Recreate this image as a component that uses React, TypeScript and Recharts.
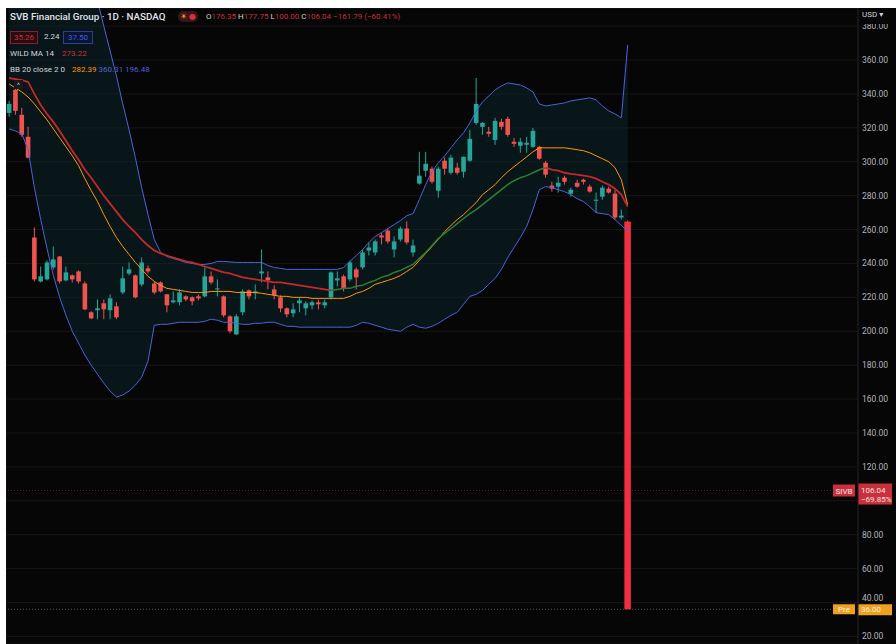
import React from 'react';
import { ComposedChart, Bar, Line, Area, XAxis, YAxis, CartesianGrid, ReferenceLine } from 'recharts';

// daily candles (USD)
const opens = [
  328.8, 342.4, 327.7, 314.7, 255.3, 229.4, 230.6, 237.7, 244.1, 230.0,
  233.0, 235.3, 228.2, 211.2, 212.4, 216.5, 212.4, 214.7, 222.9, 234.1,
  233.0, 227.6, 237.1, 228.2, 228.8, 221.8, 217.1, 217.1, 220.6, 220.0,
  220.6, 220.6, 232.4, 224.7, 220.6, 208.8, 198.2, 211.2, 224.1, 222.4,
  234.1, 231.8, 224.7, 220.0, 213.5, 210.6, 216.5, 213.5, 215.3, 217.1,
  215.3, 220.0, 230.0, 232.4, 230.6, 236.5, 237.7, 247.6, 246.5, 256.5,
  259.4, 248.2, 254.1, 260.6, 246.5, 287.1, 294.7, 295.9, 282.9, 300.6,
  293.5, 296.5, 294.1, 300.6, 322.9, 320.6, 317.7, 312.9, 323.5, 325.3,
  311.8, 309.4, 310.0, 308.8, 308.8, 299.4, 285.9, 285.3, 290.6, 281.2,
  287.6, 289.4, 285.3, 277.1, 279.4, 284.1, 281.2, 267.1, 264.7,
];
const highs = [
  335.9, 343.5, 331.8, 320.6, 261.2, 238.2, 241.8, 250.0, 244.4, 238.2,
  233.5, 235.9, 229.4, 211.8, 218.8, 218.8, 221.8, 217.1, 238.2, 240.6,
  233.5, 243.5, 238.8, 229.4, 229.4, 222.0, 223.5, 224.7, 221.2, 220.6,
  221.8, 237.7, 235.3, 230.6, 221.2, 209.4, 210.0, 224.7, 224.7, 227.6,
  248.2, 235.3, 227.1, 221.2, 214.1, 216.5, 220.0, 217.7, 218.2, 218.8,
  218.8, 235.3, 235.3, 233.5, 241.8, 237.7, 248.2, 252.4, 254.1, 258.2,
  260.6, 255.9, 261.8, 264.7, 254.1, 305.9, 305.9, 297.1, 297.1, 302.4,
  304.1, 299.4, 303.0, 318.8, 349.4, 323.5, 320.6, 325.9, 325.3, 326.5,
  314.1, 314.1, 314.7, 320.0, 309.4, 300.6, 288.2, 291.2, 291.8, 284.7,
  289.4, 290.0, 286.5, 281.8, 285.9, 285.3, 283.5, 271.8, 265.5,
];
const lows = [
  326.5, 327.7, 314.7, 302.0, 229.4, 228.8, 230.0, 236.5, 228.2, 229.4,
  228.8, 228.2, 212.4, 207.1, 207.1, 207.1, 207.1, 207.1, 221.8, 233.0,
  219.4, 226.5, 234.1, 221.8, 222.9, 211.2, 216.5, 215.3, 217.7, 215.3,
  218.2, 220.0, 227.6, 220.6, 208.2, 198.8, 197.7, 209.4, 218.8, 218.8,
  228.8, 224.7, 218.8, 211.2, 208.2, 208.2, 211.2, 209.4, 212.9, 212.9,
  213.5, 218.8, 226.5, 223.5, 229.4, 224.7, 236.5, 244.7, 244.7, 251.2,
  251.8, 243.5, 253.0, 251.2, 244.1, 286.5, 291.2, 287.1, 278.8, 292.4,
  292.4, 292.4, 290.6, 300.0, 321.8, 315.9, 314.7, 310.0, 318.8, 314.7,
  308.8, 305.3, 305.3, 308.2, 301.2, 290.6, 282.4, 281.8, 286.5, 279.4,
  284.7, 286.5, 281.8, 270.0, 277.6, 281.2, 265.9, 265.9, 36.0,
];
const closes = [
  334.1, 330.0, 315.9, 302.4, 230.6, 232.4, 240.6, 242.4, 229.4, 234.7,
  230.6, 229.4, 212.9, 207.6, 213.5, 212.9, 219.4, 208.2, 231.2, 236.5,
  220.0, 240.6, 235.3, 222.9, 223.5, 215.3, 218.2, 222.9, 218.8, 217.7,
  219.4, 232.4, 228.8, 225.3, 209.4, 200.0, 208.8, 223.5, 220.6, 223.5,
  235.3, 230.0, 221.2, 213.5, 210.0, 212.9, 218.2, 216.5, 217.1, 215.9,
  217.1, 234.7, 231.2, 225.3, 240.6, 231.8, 246.5, 249.4, 253.0, 255.3,
  253.0, 253.0, 260.6, 252.4, 250.6, 291.8, 298.8, 288.2, 295.9, 295.9,
  302.4, 293.5, 302.9, 313.5, 334.1, 322.9, 316.5, 324.1, 320.6, 315.9,
  310.6, 311.8, 311.2, 318.2, 301.8, 292.4, 284.1, 287.6, 288.2, 283.5,
  285.3, 288.2, 282.4, 277.6, 284.7, 281.8, 267.1, 268.2, 36.0,
];

// Bollinger Bands 20 / 2
const bbUpper = [
  400, 405, 410, 415, 425, 430, 432, 432, 430, 427,
  423, 418, 412, 404, 395, 380.0, 365.3, 350.6, 334.1, 318.8,
  302.4, 284.7, 268.8, 254.1, 246.5, 244.1, 242.9, 241.8, 240.6, 240.0,
  239.4, 239.4, 240.0, 241.2, 241.2, 240.9, 240.6, 240.6, 240.6, 240.6,
  240.6, 238.8, 237.6, 237.1, 236.5, 236.5, 236.5, 236.5, 236.5, 236.5,
  236.5, 236.5, 236.5, 237.6, 241.2, 244.7, 248.2, 252.4, 255.9, 258.2,
  260.6, 262.9, 265.3, 268.2, 269.4, 277.7, 286.5, 294.1, 299.4, 303.5,
  308.2, 312.9, 317.1, 322.9, 330.0, 335.3, 338.8, 342.4, 344.7, 346.5,
  345.9, 345.3, 343.5, 341.2, 334.1, 332.9, 333.5, 334.1, 334.7, 335.9,
  336.5, 337.1, 337.7, 336.5, 332.9, 330.0, 328.2, 325.9, 368.8,
];
const bbLower = [
  319.4, 318.2, 316.5, 307.1, 284.7, 265.9, 248.8, 232.9, 220.0, 209.4,
  200.0, 193.0, 185.9, 180.0, 174.7, 169.4, 164.7, 161.2, 162.4, 164.7,
  168.2, 172.9, 182.4, 203.5, 204.1, 204.1, 204.7, 205.3, 205.3, 205.3,
  205.3, 205.9, 207.1, 206.5, 205.3, 205.3, 204.7, 204.1, 204.1, 204.7,
  204.7, 205.3, 205.3, 204.1, 202.9, 202.9, 202.4, 202.4, 202.4, 202.4,
  202.4, 202.4, 202.4, 202.4, 202.4, 203.5, 205.3, 204.7, 203.5, 202.4,
  201.2, 200.6, 200.0, 202.4, 204.1, 202.4, 201.8, 202.9, 204.7, 207.1,
  209.4, 211.2, 215.9, 220.6, 221.8, 224.1, 227.7, 231.2, 236.5, 243.5,
  249.4, 255.3, 261.8, 271.8, 283.5, 285.3, 284.7, 283.5, 282.4, 280.6,
  278.2, 276.5, 273.5, 270.0, 269.4, 268.8, 265.9, 262.4, 258.8,
];
const bbBasis = [
  345.9, 343.5, 341.2, 338.2, 334.1, 329.4, 324.7, 319.4, 314.1, 308.8,
  303.5, 297.7, 290.0, 283.0, 276.5, 268.8, 261.8, 255.3, 250.0, 245.3,
  240.6, 236.5, 232.4, 229.4, 227.1, 225.3, 224.7, 224.1, 223.5, 222.9,
  222.9, 222.9, 223.5, 223.5, 223.5, 223.5, 222.9, 222.9, 222.9, 222.9,
  222.4, 221.8, 221.2, 220.6, 220.6, 220.0, 220.0, 220.0, 219.4, 219.4,
  219.4, 219.4, 219.4, 219.4, 220.6, 222.4, 223.5, 225.3, 227.7, 228.8,
  230.0, 231.2, 232.9, 235.3, 237.7, 241.8, 245.9, 250.0, 254.1, 258.8,
  262.4, 265.9, 268.8, 272.4, 275.9, 280.6, 283.5, 286.5, 290.6, 294.1,
  297.1, 300.0, 302.9, 305.9, 308.2, 308.2, 308.2, 308.2, 308.2, 307.7,
  307.1, 306.5, 305.3, 303.5, 301.8, 300.0, 296.5, 289.4, 274.7,
];

// Wilder MA 14, green while rising
const wildMa = [
  349.4, 348.8, 348.2, 347.1, 340.0, 333.5, 328.2, 323.5, 318.2, 312.4,
  306.5, 301.2, 295.3, 290.6, 285.3, 280.0, 275.3, 270.6, 265.9, 261.8,
  258.2, 254.1, 250.6, 247.7, 245.9, 244.7, 243.5, 242.4, 241.2, 240.6,
  239.4, 238.2, 237.1, 235.9, 234.7, 234.1, 232.9, 231.8, 231.2, 230.6,
  230.0, 229.4, 228.8, 228.8, 228.2, 227.7, 227.1, 226.5, 225.9, 225.3,
  224.7, 224.1, 224.7, 225.3, 225.3, 226.5, 227.1, 228.8, 230.0, 231.8,
  232.9, 234.7, 235.9, 237.7, 239.4, 243.0, 246.5, 250.6, 254.7, 257.7,
  260.6, 263.5, 266.5, 269.4, 271.8, 274.7, 277.7, 280.6, 283.5, 286.5,
  288.8, 290.6, 291.8, 293.5, 295.3, 296.5, 295.3, 294.7, 293.5, 292.9,
  292.4, 291.8, 291.2, 290.0, 288.2, 286.5, 284.1, 280.6, 273.5,
];
const wildRiseStart = 51;
const wildRiseEnd = 85;

const priceTicks = [20, 40, 60, 80, 100, 120, 140, 160, 180, 200, 220, 240, 260, 280, 300, 320, 340, 360, 380];
const gridDays = [11, 23, 33, 44, 54, 61, 73, 81, 93, 106, 118, 130];
const totalSlots = 135;
const lastClose = 106.04;
const lastChange = '−69.85%';
const preMarket = 36.0;

const rows = Array.from({ length: totalSlots }, (_, i) => {
  if (i >= opens.length) return { day: i };
  const rising = i >= wildRiseStart && i <= wildRiseEnd;
  return {
    day: i,
    open: opens[i],
    high: highs[i],
    low: lows[i],
    close: closes[i],
    range: [lows[i], highs[i]],
    band: [bbLower[i], bbUpper[i]],
    upper: bbUpper[i],
    lower: bbLower[i],
    basis: bbBasis[i],
    wildRed: !rising || i === wildRiseStart || i === wildRiseEnd ? wildMa[i] : null,
    wildGreen: rising ? wildMa[i] : null,
  };
});

const font = 'Roboto, "DejaVu Sans", sans-serif';

const Candle = (props: any) => {
  const { x, y, width, height, payload, index } = props;
  if (!payload || payload.open == null) return null;
  const { open, close, high, low } = payload;
  const cx = x + width / 2;
  const k = height / (high - low || 1);
  const yOpen = y + (high - open) * k;
  const yClose = y + (high - close) * k;
  const up = close >= open;
  const last = index === opens.length - 1;
  const color = last ? '#f0303e' : up ? '#26a69a' : '#ef5350';
  const bw = last ? 6.5 : 4.6;
  return (
    <g>
      <line x1={cx} x2={cx} y1={y} y2={y + height} stroke={color} strokeWidth={1} />
      <rect x={cx - bw / 2} y={Math.min(yOpen, yClose)} width={bw} height={Math.max(1, Math.abs(yClose - yOpen))} fill={color} />
    </g>
  );
};

// price labels; the one under the last-price tag is hidden, the one next to the pre-market tag is nudged up
const PriceTick = (props: any) => {
  const { x, y, payload } = props;
  const v = payload.value;
  if (Math.abs(v - lastClose) < 9) return null;
  const nudge = Math.abs(v - preMarket) < 6 ? -4 : 0;
  return (
    <text x={x} y={y + nudge} dy={3} fill="#b2b5be" fontSize={8.5} fontFamily={font} textAnchor="start">
      {v.toFixed(2)}
    </text>
  );
};

const LastTag = (props: any) => {
  const { viewBox } = props;
  const right = viewBox.x + viewBox.width;
  const y = viewBox.y;
  return (
    <g fontFamily={font} fontSize={8}>
      <rect x={right - 25} y={y - 6} width={22} height={12} fill="#c9303b" />
      <text x={right - 14} y={y + 3} fill="#ffe3e3" textAnchor="middle">SIVB</text>
      <rect x={right} y={y - 7} width={34} height={21} fill="#c9303b" />
      <text x={right + 3} y={y + 2} fill="#ffe3e3">{lastClose.toFixed(2)}</text>
      <text x={right + 3} y={y + 11} fill="#ffe3e3">{lastChange}</text>
    </g>
  );
};

const PreTag = (props: any) => {
  const { viewBox } = props;
  const right = viewBox.x + viewBox.width;
  const y = viewBox.y;
  return (
    <g fontFamily={font} fontSize={8}>
      <rect x={right - 25} y={y - 5} width={22} height={10} fill="#f0a020" />
      <text x={right - 14} y={y + 3} fill="#fff4dc" textAnchor="middle">Pre</text>
      <rect x={right} y={y - 5} width={34} height={11} fill="#f0a020" />
      <text x={right + 3} y={y + 3} fill="#fff4dc">{preMarket.toFixed(2)}</text>
    </g>
  );
};

const txt: React.CSSProperties = { position: 'absolute', fontFamily: font, whiteSpace: 'nowrap', lineHeight: 1 };

export default function App() {
  return (
    <div style={{ position: 'absolute', left: 6, top: 8, width: 890, height: 636, background: '#060606', overflow: 'hidden' }}>
      <ComposedChart width={890} height={636} data={rows} margin={{ top: 0, right: 0, bottom: 0, left: 0 }}>
        <CartesianGrid stroke="#171717" strokeWidth={1} />
        <XAxis dataKey="day" ticks={gridDays} height={0} tick={false} axisLine={false} tickLine={false} />
        <YAxis
          orientation="right"
          width={38}
          domain={[15.5, 390.7]}
          ticks={priceTicks}
          allowDataOverflow
          interval={0}
          tickLine={false}
          tickSize={2}
          tickMargin={2}
          axisLine={{ stroke: '#1c1c1c' }}
          tick={<PriceTick />}
        />
        <Area dataKey="band" type="linear" stroke="none" fill="#0d2a30" fillOpacity={0.45} isAnimationActive={false} />
        <ReferenceLine y={lastClose} stroke="#c9303b" strokeOpacity={0.5} strokeDasharray="1 2" label={<LastTag />} />
        <ReferenceLine y={preMarket} stroke="#8a8a8a" strokeOpacity={0.6} strokeDasharray="1 2" label={<PreTag />} />
        <Bar dataKey="range" shape={(p: any) => <Candle {...p} />} isAnimationActive={false} />
        <Line dataKey="upper" type="linear" stroke="#4d62d8" strokeWidth={1} dot={false} isAnimationActive={false} />
        <Line dataKey="lower" type="linear" stroke="#4d62d8" strokeWidth={1} dot={false} isAnimationActive={false} />
        <Line dataKey="basis" type="linear" stroke="#ff9800" strokeWidth={1} dot={false} isAnimationActive={false} />
        <Line dataKey="wildRed" type="linear" stroke="#c62828" strokeWidth={1.8} dot={false} connectNulls={false} isAnimationActive={false} />
        <Line dataKey="wildGreen" type="linear" stroke="#2e7d32" strokeWidth={1.5} dot={false} connectNulls={false} isAnimationActive={false} />
      </ComposedChart>

      <div style={{ ...txt, left: 4, top: 4, fontSize: 9.8, fontWeight: 500, color: '#e0e3eb' }}>SVB Financial Group · 1D · NASDAQ</div>
      <div style={{ ...txt, left: 172, top: 3, width: 20, height: 11, borderRadius: 5, background: '#3a1418', fontSize: 8, color: '#f5a623', textAlign: 'center', lineHeight: '11px' }}>☀ <span style={{ color: '#d03040' }}>●</span></div>
      <div style={{ ...txt, left: 200, top: 5, fontSize: 8, color: '#d1d4dc' }}>
        O<span style={{ color: '#c9303b' }}>176.35</span> H<span style={{ color: '#c9303b' }}>177.75</span> L<span style={{ color: '#c9303b' }}>100.00</span> C<span style={{ color: '#c9303b' }}>106.04 −161.79 (−60.41%)</span>
      </div>
      <div style={{ ...txt, left: 4, top: 23, width: 26, height: 11, border: '1px solid #7a2430', background: '#2a0c10', fontSize: 8, color: '#c9303b', textAlign: 'center', lineHeight: '11px' }}>35.26</div>
      <div style={{ ...txt, left: 38, top: 25, fontSize: 8, color: '#d1d4dc' }}>2.24</div>
      <div style={{ ...txt, left: 57, top: 23, width: 28, height: 11, border: '1px solid #2a3f8f', background: '#0c1430', fontSize: 8, color: '#3f5fe0', textAlign: 'center', lineHeight: '11px' }}>37.50</div>
      <div style={{ ...txt, left: 4, top: 42, fontSize: 8, color: '#d1d4dc' }}>
        WILD MA 14 <span style={{ color: '#c9303b', marginLeft: 6 }}>273.22</span>
      </div>
      <div style={{ ...txt, left: 4, top: 58, fontSize: 8, color: '#d1d4dc' }}>
        BB 20 close 2 0 <span style={{ color: '#ff9800', marginLeft: 5 }}>282.39</span>{' '}
        <span style={{ color: '#4d62d8' }}>360.31</span> <span style={{ color: '#4d62d8' }}>196.48</span>
      </div>
      <div style={{ ...txt, left: 8, top: 72, width: 9, height: 9, background: '#1a1a1a', fontSize: 8, color: '#b2b5be', textAlign: 'center', lineHeight: '11px' }}>^</div>
      <div style={{ ...txt, left: 853, top: 3, width: 36, height: 13, background: '#060606', fontSize: 8, color: '#d1d4dc', paddingLeft: 3 }}>USD ▾</div>
    </div>
  );
}
